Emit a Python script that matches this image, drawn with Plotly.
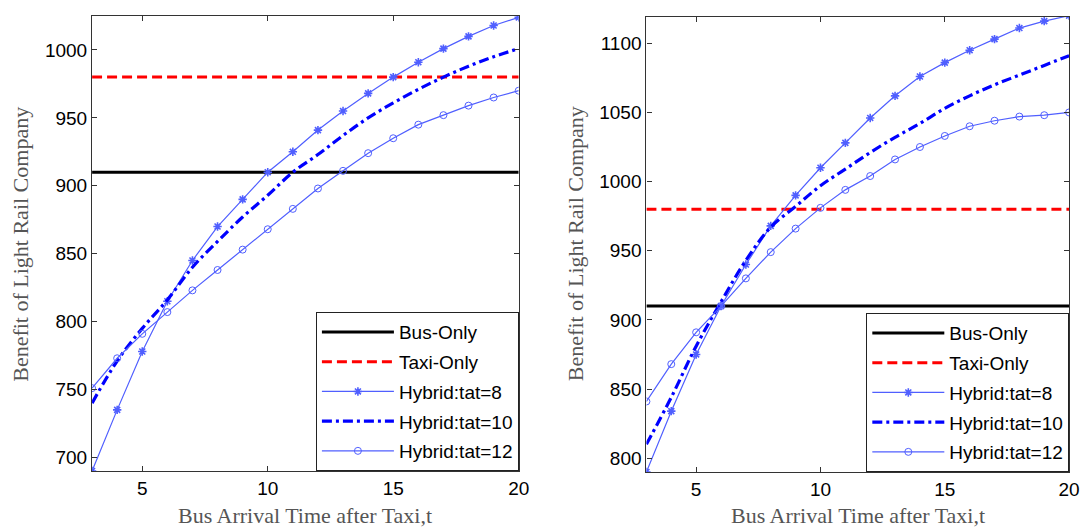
import plotly.graph_objects as go

t = list(range(3, 21))

# Left panel
left_bus = 910
left_taxi = 980
left_tat8 = [690, 735, 778, 815, 845, 870, 890, 910, 925, 941, 955, 968, 980, 991, 1001, 1010, 1018, 1024]
left_tat10 = [740, 771, 795, 816, 840, 859, 877, 893, 910, 923, 937, 950, 961, 971, 980, 988, 995, 1001]
left_tat12 = [751, 773, 791, 807, 823, 838, 853, 868, 883, 898, 911, 924, 935, 945, 952, 959, 965, 970]

# Right panel
right_bus = 910
right_taxi = 980
right_tat8 = [790, 834, 875, 910, 940, 968, 990, 1010, 1028, 1046, 1062, 1076, 1086, 1095, 1103, 1111, 1116, 1120]
right_tat10 = [810, 844, 881, 913, 943, 967, 982, 997, 1009, 1021, 1032, 1042, 1053, 1062, 1070, 1077, 1084, 1091]
right_tat12 = [841, 868, 891, 910, 930, 949, 966, 981, 994, 1004, 1016, 1025, 1033, 1040, 1044, 1047, 1048, 1050]

x_ticks = [5, 10, 15, 20]
left_yticks = [700, 750, 800, 850, 900, 950, 1000]
right_yticks = [800, 850, 900, 950, 1000, 1050, 1100]
left_yrange = [690, 1025]
right_yrange = [790, 1119]

x_title = "Bus Arrival Time after Taxi,t"
y_title = "Benefit of Light Rail Company"
names = ["Bus-Only", "Taxi-Only", "Hybrid:tat=8", "Hybrid:tat=10", "Hybrid:tat=12"]
light_blue = "rgb(80,95,255)"

fig = go.Figure()


def add_panel(xa, ya, leg, bus, taxi, s8, s10, s12):
    g = leg + "_"
    fig.add_trace(go.Scatter(x=t, y=[bus] * len(t), mode="lines", name=names[0], legendgroup=g + "a",
                             line=dict(color="black", width=3), xaxis=xa, yaxis=ya, legend=leg))
    fig.add_trace(go.Scatter(x=t, y=[taxi] * len(t), mode="lines", name=names[1], legendgroup=g + "b",
                             line=dict(color="red", width=3, dash="10px,5px"), xaxis=xa, yaxis=ya, legend=leg))
    fig.add_trace(go.Scatter(x=t, y=s8, mode="lines+markers", name=names[2], legendgroup=g + "c",
                             line=dict(color=light_blue, width=1.2),
                             marker=dict(symbol="asterisk-open", size=7, color=light_blue,
                                         line=dict(color="blue", width=1.6)),
                             xaxis=xa, yaxis=ya, legend=leg))
    fig.add_trace(go.Scatter(x=t, y=s10, mode="lines", name=names[3], line_shape="spline", legendgroup=g + "d",
                             line=dict(color="blue", width=3.2, dash="10px,4px,3px,4px"),
                             xaxis=xa, yaxis=ya, legend=leg))
    fig.add_trace(go.Scatter(x=t, y=s12, mode="lines+markers", name=names[4], legendgroup=g + "e",
                             line=dict(color=light_blue, width=1.2),
                             marker=dict(symbol="circle-open", size=7, color=light_blue,
                                         line=dict(color=light_blue, width=1)),
                             xaxis=xa, yaxis=ya, legend=leg))


add_panel("x", "y", "legend", left_bus, left_taxi, left_tat8, left_tat10, left_tat12)
add_panel("x2", "y2", "legend2", right_bus, right_taxi, right_tat8, right_tat10, right_tat12)

W, H = 1091, 528
ax_common = dict(showline=True, linecolor="#333", linewidth=1.2, mirror="ticks",
                 ticks="inside", ticklen=5, tickcolor="#333", showgrid=False, zeroline=False,
                 tickfont=dict(family="Arial, Liberation Sans", size=19, color="black"))
title_font = dict(family="Liberation Serif", size=22, color="#555")
legend_common = dict(xanchor="right", yanchor="bottom", bgcolor="white", bordercolor="#222",
                     borderwidth=1.2, itemwidth=72, tracegroupgap=2, traceorder="grouped",
                     font=dict(family="Arial, Liberation Sans", size=19, color="black"))

fig.update_layout(
    width=W, height=H,
    margin=dict(l=0, r=0, t=0, b=0),
    paper_bgcolor="white", plot_bgcolor="white",
    xaxis=dict(domain=[93 / W, 524 / W], range=[3, 20], tickvals=x_ticks, anchor="y", **ax_common),
    yaxis=dict(domain=[1 - 471 / H, 1 - 16 / H], range=left_yrange, tickvals=left_yticks, anchor="x",
               **ax_common),
    xaxis2=dict(domain=[653 / W, 1080 / W], range=[3, 20], tickvals=x_ticks, anchor="y2", **ax_common),
    yaxis2=dict(domain=[1 - 472 / H, 1 - 17 / H], range=right_yrange, tickvals=right_yticks, anchor="x2",
                **ax_common),
    legend=dict(x=524 / W, y=1 - 471 / H, **legend_common),
    legend2=dict(x=1080 / W, y=1 - 472 / H, **legend_common),
)

for cx in (308.5, 866.5):
    fig.add_annotation(text=x_title, xref="paper", yref="paper", x=cx / W, y=1 - 515 / H,
                       xanchor="center", yanchor="middle", showarrow=False, font=title_font)
for cx in (20, 581):
    fig.add_annotation(text=y_title, xref="paper", yref="paper", x=cx / W, y=1 - 244 / H,
                       xanchor="center", yanchor="middle", textangle=-90, showarrow=False, font=title_font)

fig.write_html("out.html", config={"displayModeBar": False},
               post_script="document.body.style.margin='0';document.body.style.overflow='hidden';")
